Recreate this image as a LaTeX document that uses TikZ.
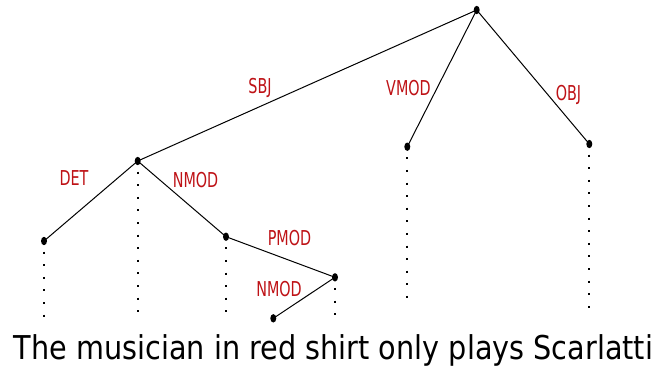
\documentclass[tikz,border=0pt]{standalone}
\usepackage{fontspec}
\newfontfamily\labfont[FakeStretch=0.7]{DejaVu Sans}
\newfontfamily\wordfont[FakeStretch=0.875]{DejaVu Sans}
\definecolor{labred}{RGB}{190,18,22}
\usetikzlibrary{shapes.geometric}
\tikzset{
  tok/.style={ellipse, fill=black, inner sep=0pt, minimum width=6pt, minimum height=8.4pt},
  arc/.style={line width=1pt, black},
  guide/.style={line width=2pt, dash pattern=on 2pt off 10.6pt, dash phase=2pt},
  rel/.style={anchor=base, text=labred, font=\labfont\fontsize{20.5}{22}\selectfont, inner sep=0pt}
}
\begin{document}
\begin{tikzpicture}[x=1pt,y=-1pt]
\useasboundingbox (0,0) rectangle (655,376);
% tokens
\node[tok] (root) at (476.7,10) {};
\node[tok] (mus) at (137.7,161) {};
\node[tok] (the) at (44,241) {};
\node[tok] (in) at (226,236.7) {};
\node[tok] (shirt) at (335,277.3) {};
\node[tok] (red) at (273.3,318.3) {};
\node[tok] (only) at (407.3,146.7) {};
\node[tok] (scar) at (589.3,144) {};
% guide ends
\coordinate (gthe) at (44,318);
\coordinate (gmus) at (137.7,313);
\coordinate (gin) at (226,315);
\coordinate (gshirt) at (335,316);
\coordinate (gonly) at (407.3,306);
\coordinate (gscar) at (589.3,312);
% arcs
\draw[arc] (root.center) -- (mus.center);
\draw[arc] (root.center) -- (only.center);
\draw[arc] (root.center) -- (scar.center);
\draw[arc] (mus.center) -- (the.center);
\draw[arc] (mus.center) -- (in.center);
\draw[arc] (in.center) -- (shirt.center);
\draw[arc] (shirt.center) -- (red.center);
% guides
\draw[guide] (the.center) -- (gthe);
\draw[guide] (mus.center) -- (gmus);
\draw[guide] (in.center) -- (gin);
\draw[guide] (shirt.center) -- (gshirt);
\draw[guide] (only.center) -- (gonly);
\draw[guide] (scar.center) -- (gscar);
% labels
\node[rel] (lsbj) at (260,93) {SBJ};
\node[rel] (ldet) at (74,185) {DET};
\node[rel] (lnmod1) at (195.5,187) {NMOD};
\node[rel] (lpmod) at (289.5,245) {PMOD};
\node[rel] (lnmod2) at (279,296) {NMOD};
\node[rel] (lvmod) at (408.5,95) {VMOD};
\node[rel] (lobj) at (568.5,100) {OBJ};
% sentence
\node[anchor=base, inner sep=0pt, font=\wordfont\fontsize{32.8}{35}\selectfont] (sent) at (333.5,359) {The musician in red shirt only plays Scarlatti};
\end{tikzpicture}
\end{document}
